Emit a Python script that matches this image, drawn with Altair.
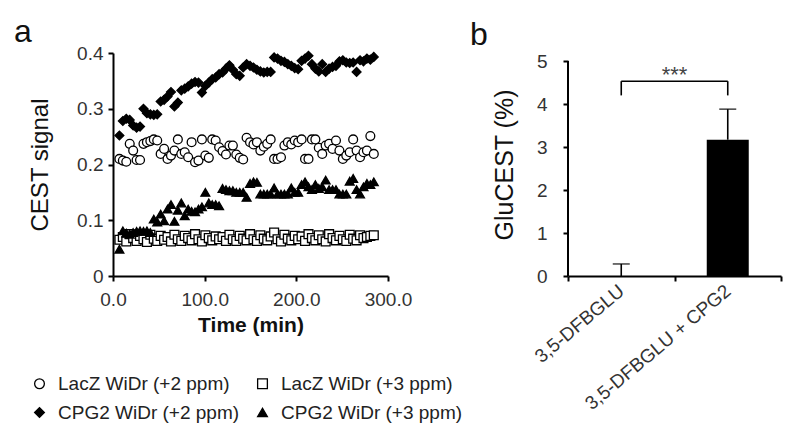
import altair as alt
import pandas as pd

FONT = "Liberation Sans"

# ---------------- Panel a data ----------------
times = [7, 10.75, 14.5, 18.25, 22, 25.75, 29.5, 33.25, 37, 40.75,
         44.5, 48.25, 52, 55.75, 59.5, 63.25, 67, 70.75, 74.5, 78.25,
         82, 85.75, 89.5, 93.25, 97, 100.75, 104.5, 108.25, 112, 115.75,
         119.5, 123.25, 127, 130.75, 134.5, 138.25, 142, 145.75, 149.5, 153.25,
         157, 160.75, 164.5, 168.25, 172, 175.75, 179.5, 183.25, 187, 190.75,
         194.5, 198.25, 202, 205.75, 209.5, 213.25, 217, 220.75, 224.5, 228.25,
         232, 235.75, 239.5, 243.25, 247, 250.75, 254.5, 258.25, 262, 265.75,
         269.5, 273.25, 277, 280.75, 284.5]

lacz_2ppm = [0.210, 0.207, 0.205, 0.237, 0.225, 0.208, 0.208, 0.237, 0.240, 0.242,
             0.245, 0.243, 0.219, 0.228, 0.210, 0.216, 0.225, 0.245, 0.219, 0.222,
             0.213, 0.240, 0.204, 0.207, 0.245, 0.216, 0.212, 0.245, 0.243, 0.231,
             0.224, 0.218, 0.234, 0.234, 0.218, 0.212, 0.209, 0.248, 0.240, 0.236,
             0.240, 0.225, 0.232, 0.237, 0.245, 0.210, 0.210, 0.213, 0.234, 0.240,
             0.236, 0.243, 0.240, 0.245, 0.210, 0.210, 0.245, 0.245, 0.230, 0.219,
             0.234, 0.237, 0.228, 0.243, 0.225, 0.210, 0.216, 0.222, 0.245, 0.225,
             0.213, 0.222, 0.225, 0.251, 0.219]

lacz_3ppm = [0.065, 0.070, 0.062, 0.075, 0.068, 0.063, 0.072, 0.066, 0.061, 0.074,
             0.067, 0.063, 0.072, 0.065, 0.070, 0.062, 0.074, 0.066, 0.063, 0.072,
             0.068, 0.064, 0.075, 0.066, 0.062, 0.073, 0.068, 0.064, 0.071, 0.066,
             0.070, 0.063, 0.074, 0.066, 0.063, 0.072, 0.067, 0.064, 0.075, 0.066,
             0.063, 0.073, 0.067, 0.064, 0.071, 0.078, 0.066, 0.062, 0.074, 0.067,
             0.064, 0.072, 0.066, 0.071, 0.063, 0.075, 0.068, 0.064, 0.073, 0.066,
             0.062, 0.075, 0.068, 0.064, 0.072, 0.066, 0.063, 0.074, 0.067, 0.064,
             0.073, 0.068, 0.070, 0.072, 0.073]

cpg2_2ppm = [0.252, 0.278, 0.282, 0.280, 0.270, 0.266, 0.268, 0.300, 0.292, 0.290,
             0.289, 0.290, 0.313, 0.316, 0.322, 0.330, 0.304, 0.311, 0.333, 0.336,
             0.340, 0.345, 0.348, 0.347, 0.329, 0.341, 0.347, 0.353, 0.356, 0.362,
             0.365, 0.372, 0.378, 0.370, 0.362, 0.359, 0.374, 0.380, 0.377, 0.374,
             0.370, 0.367, 0.365, 0.366, 0.366, 0.392, 0.390, 0.386, 0.384, 0.380,
             0.377, 0.373, 0.371, 0.386, 0.390, 0.395, 0.380, 0.372, 0.367, 0.380,
             0.366, 0.372, 0.375, 0.377, 0.385, 0.387, 0.383, 0.382, 0.383, 0.366,
             0.387, 0.385, 0.390, 0.388, 0.393]

cpg2_3ppm = [0.048, 0.081, 0.077, 0.075, 0.078, 0.080, 0.081, 0.080, 0.081, 0.078,
             0.102, 0.097, 0.111, 0.099, 0.120, 0.128, 0.098, 0.118, 0.131, 0.108,
             0.120, 0.116, 0.115, 0.120, 0.124, 0.150, 0.131, 0.128, 0.128, 0.126,
             0.157, 0.155, 0.153, 0.153, 0.150, 0.150, 0.150, 0.141, 0.166, 0.169,
             0.168, 0.147, 0.147, 0.147, 0.147, 0.158, 0.147, 0.147, 0.147, 0.147,
             0.158, 0.150, 0.150, 0.164, 0.169, 0.160, 0.155, 0.164, 0.157, 0.160,
             0.172, 0.155, 0.155, 0.155, 0.147, 0.147, 0.147, 0.170, 0.175, 0.155,
             0.147, 0.160, 0.166, 0.164, 0.169]

series_names = ["LacZ WiDr (+2 ppm)", "LacZ WiDr (+3 ppm)",
                "CPG2 WiDr (+2 ppm)", "CPG2 WiDr (+3 ppm)"]
series_values = [lacz_2ppm, lacz_3ppm, cpg2_2ppm, cpg2_3ppm]
series_shapes = ["circle", "square", "diamond", "triangle-up"]
series_fills = ["white", "white", "black", "black"]
# legend fills column by column: LacZ+2 / CPG2+2 in the first column
legend_order = [0, 2, 1, 3]

x_ticks_a = [0, 100, 200, 300]
y_ticks_a = [0, 0.1, 0.2, 0.3, 0.4]

# ---------------- Panel b data ----------------
groups = ["3,5-DFBGLU", "3,5-DFBGLU + CPG2"]
glucest_mean = [0.0, 3.17]
glucest_err = [0.28, 0.71]
y_ticks_b = [0, 1, 2, 3, 4, 5]
bracket_low = 4.2
bracket_high = 4.53
sig_label = "***"

# ---------------- Build tables ----------------
rows = []
for k, (name, vals) in enumerate(zip(series_names, series_values)):
    for t, v in zip(times, vals):
        rows.append({"time": t, "signal": v, "series": name, "draw": k})
df_a = pd.DataFrame(rows)

dom = [series_names[i] for i in legend_order]
shape_rng = [series_shapes[i] for i in legend_order]
fill_rng = [series_fills[i] for i in legend_order]

df_b = pd.DataFrame({
    "group": groups,
    "mean": glucest_mean,
    "top": [m + e for m, e in zip(glucest_mean, glucest_err)],
})
df_br = pd.DataFrame({"group": groups, "low": [bracket_low] * 2, "high": [bracket_high] * 2})
df_bh = pd.DataFrame({"g1": [groups[0]], "g2": [groups[1]], "high": [bracket_high]})

W_A, H = 275, 223
W_B = 213
B_TOP = 5 * H / 215.0  # so that 5 sits slightly below the panel top

legend_spec = dict(
    title=None, orient="none", legendX=-83, legendY=321, columns=2,
    columnPadding=13, rowPadding=9, labelFont=FONT, labelFontSize=19,
    labelColor="#222222", symbolSize=95, labelOffset=9, padding=0,
    labelLimit=0, symbolStrokeColor="black", symbolStrokeWidth=1.3,
)

points = alt.Chart(df_a).mark_point(
    filled=True, strokeWidth=1.3, size=78, opacity=1
).encode(
    x=alt.X("time:Q", scale=alt.Scale(domain=[0, 300], nice=False),
            axis=alt.Axis(values=x_ticks_a, format=".1f", title="Time (min)",
                          titleFontWeight="bold", titleFontSize=21,
                          labelPadding=9, titlePadding=5, labelFlush=False)),
    y=alt.Y("signal:Q", scale=alt.Scale(domain=[0, 0.4], nice=False),
            axis=alt.Axis(values=y_ticks_a,
                          labelExpr="datum.value == 0 ? '0' : format(datum.value, '.1f')",
                          title="CEST signal", titleFontSize=24, titlePadding=24,
                          labelPadding=5, labelFlush=False)),
    shape=alt.Shape("series:N", scale=alt.Scale(domain=dom, range=shape_rng),
                    legend=alt.Legend(**legend_spec)),
    fill=alt.Fill("series:N", scale=alt.Scale(domain=dom, range=fill_rng),
                  legend=alt.Legend(**legend_spec)),
    stroke=alt.Stroke("series:N", scale=alt.Scale(domain=dom, range=["black"] * 4),
                      legend=alt.Legend(**legend_spec)),
    order=alt.Order("draw:Q"),
)

label_a = alt.Chart(df_bh).mark_text(
    text="a", font=FONT, fontSize=32, align="left", baseline="alphabetic", color="#111111"
).encode(x=alt.value(-99), y=alt.value(-11))

panel_a = alt.layer(points, label_a).properties(width=W_A, height=H)

# ---------------- Panel b ----------------
xb = alt.X("group:N", sort=groups,
           scale=alt.Scale(domain=groups, paddingInner=0, paddingOuter=0),
           axis=alt.Axis(title=None, labelAngle=-40, labelAlign="right",
                         labelBaseline="middle", labelFontSize=19, labelPadding=7,
                         tickBand="extent", labelColor="#333333", labelLimit=0))
yb_scale = alt.Scale(domain=[0, B_TOP], nice=False)

bars = alt.Chart(df_b).mark_bar(color="black", size=42).encode(
    x=xb,
    y=alt.Y("mean:Q", scale=yb_scale,
            axis=alt.Axis(values=y_ticks_b, domain=False, title="GluCEST (%)",
                          titleFontSize=25, titlePadding=19, labelPadding=16,
                          labelFontSize=19)),
)
err = alt.Chart(df_b).mark_rule(color="black", strokeWidth=1.6).encode(
    x=alt.X("group:N", sort=groups), y="mean:Q", y2="top:Q")
caps = alt.Chart(df_b).mark_tick(color="black", size=17, thickness=1.6, orient="horizontal").encode(
    x=alt.X("group:N", sort=groups), y="top:Q")
legs = alt.Chart(df_br).mark_rule(color="black", strokeWidth=1.6).encode(
    x=alt.X("group:N", sort=groups), y="low:Q", y2="high:Q")
hbar = alt.Chart(df_bh).mark_rule(color="black", strokeWidth=1.6).encode(
    x=alt.X("g1:N"), x2="g2:N", y="high:Q")
stars = alt.Chart(df_bh).mark_text(
    text=sig_label, font=FONT, fontSize=22, color="#444444", baseline="middle"
).encode(x=alt.value(W_B / 2), y=alt.datum(4.68))
yline = alt.Chart(df_bh).mark_rule(color="black", strokeWidth=2).encode(
    x=alt.value(0), y=alt.datum(0), y2=alt.datum(5))
label_b = alt.Chart(df_bh).mark_text(
    text="b", font=FONT, fontSize=32, align="left", baseline="alphabetic", color="#111111"
).encode(x=alt.value(-98), y=alt.value(-8))

panel_b = alt.layer(bars, err, caps, legs, hbar, stars, yline, label_b).properties(
    width=W_B, height=H)

chart = alt.hconcat(panel_a, panel_b, spacing=58).properties(
    padding={"top": 8, "left": 6, "right": 5, "bottom": 5}
).configure_view(
    stroke=None
).configure_axis(
    labelFont=FONT, titleFont=FONT, labelFontSize=19, labelColor="#333333",
    titleColor="#111111", titleFontWeight="normal", domainColor="black",
    domainWidth=2, tickColor="black", tickWidth=2, tickSize=5, grid=False,
)

chart.save("out.html", embed_options={"renderer": "svg", "actions": False})
